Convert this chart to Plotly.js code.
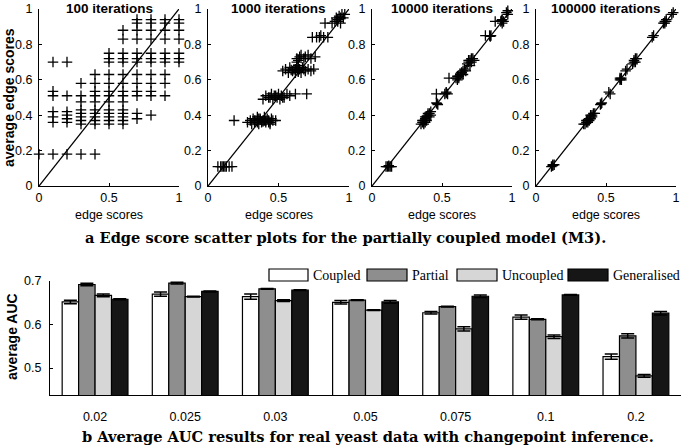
<!DOCTYPE html>
<html><head><meta charset="utf-8">
<script src="https://cdn.plot.ly/plotly-3.0.1.min.js"></script>
<style>html,body{margin:0;padding:0;background:#fff}#chart{width:685px;height:446px}</style>
</head><body><div id="chart"></div>
<script>
// ---------- Panel data (edge score scatter) ----------
const it100Cols = [0, 0.1, 0.2, 0.3, 0.4, 0.5, 0.6, 0.7, 0.8, 0.9, 1.0];
const it100Rows = [
  [0.18],
  [0.18, 0.36, 0.39, 0.42, 0.51, 0.535, 0.70],
  [0.18, 0.36, 0.38, 0.40, 0.42, 0.51, 0.70],
  [0.18, 0.35, 0.37, 0.39, 0.41, 0.43, 0.475, 0.51, 0.58],
  [0.18, 0.35, 0.37, 0.39, 0.41, 0.43, 0.475, 0.51, 0.535, 0.58, 0.63],
  [0.35, 0.37, 0.39, 0.41, 0.43, 0.475, 0.51, 0.535, 0.58, 0.63, 0.70, 0.72, 0.75],
  [0.35, 0.37, 0.39, 0.41, 0.43, 0.475, 0.51, 0.535, 0.58, 0.63, 0.70, 0.72, 0.75, 0.83, 0.88],
  [0.38, 0.41, 0.51, 0.535, 0.58, 0.63, 0.70, 0.72, 0.75, 0.83, 0.88, 0.92, 0.94],
  [0.40, 0.51, 0.535, 0.58, 0.63, 0.70, 0.72, 0.75, 0.83, 0.88, 0.92, 0.94],
  [0.51, 0.58, 0.63, 0.70, 0.72, 0.75, 0.83, 0.88, 0.92, 0.94],
  [0.70, 0.72, 0.75, 0.83, 0.88, 0.92, 0.94]
];

const it1000X = [0.07,0.09,0.10,0.11,0.12,0.13,0.15,0.17,
  0.185,
  0.28,0.30,0.31,0.32,0.33,0.34,0.35,0.36,0.37,0.38,0.39,0.40,0.41,0.42,0.43,0.44,0.45,0.46,0.48,
  0.33,0.35,0.37,0.39,0.41,0.43,0.36,0.40,0.44,
  0.39,0.41,0.43,0.45,0.46,0.47,0.49,0.50,0.51,0.52,0.54,0.56,0.58,0.62,0.70,0.44,0.48,0.53,
  0.53,0.55,0.57,0.58,0.60,0.61,0.62,0.63,0.63,0.64,0.65,0.66,0.67,0.69,0.71,0.73,0.75,0.59,0.62,0.64,0.68,
  0.63,0.65,0.66,0.68,0.69,0.71,0.73,0.76,0.64,0.64,
  0.74,0.77,0.79,0.80,0.82,0.85,
  0.83,0.88,0.90,0.91,0.92,0.93,0.94,0.95,0.96,0.97,0.92,0.94];
const it1000Y = [0.11,0.11,0.11,0.11,0.11,0.11,0.11,0.11,
  0.37,
  0.36,0.37,0.35,0.38,0.36,0.37,0.39,0.35,0.38,0.36,0.37,0.39,0.36,0.38,0.37,0.35,0.38,0.37,0.37,
  0.37,0.36,0.375,0.365,0.37,0.36,0.38,0.37,0.36,
  0.49,0.51,0.50,0.52,0.49,0.51,0.50,0.52,0.49,0.51,0.50,0.52,0.51,0.52,0.52,0.50,0.51,0.50,
  0.65,0.66,0.64,0.67,0.65,0.66,0.64,0.67,0.70,0.65,0.66,0.64,0.67,0.65,0.66,0.65,0.66,0.655,0.66,0.645,0.66,
  0.72,0.73,0.74,0.72,0.73,0.74,0.72,0.73,0.68,0.71,
  0.84,0.84,0.84,0.85,0.84,0.84,
  0.92,0.92,0.93,0.95,0.94,0.96,0.92,0.97,0.95,0.97,0.93,0.95];

const it10000X = [0.10,0.11,0.12,0.13,0.14,0.12,
  0.35,0.36,0.37,0.37,0.38,0.39,0.39,0.40,0.41,0.41,0.42,0.42,0.36,0.38,0.37,0.40,0.38,
  0.46,0.47,0.465,
  0.46,0.52,0.53,0.54,0.53,
  0.55,0.60,0.61,0.62,0.63,0.64,0.65,0.65,0.66,0.67,0.61,0.62,0.64,
  0.68,0.69,0.70,0.71,0.72,0.73,0.70,0.71,0.69,
  0.81,0.84,0.85,0.845,
  0.88,0.92,0.93,0.94,0.93,0.925,
  0.96,0.97,0.97];
const it10000Y = [0.11,0.11,0.11,0.11,0.11,0.115,
  0.35,0.36,0.35,0.37,0.38,0.37,0.39,0.40,0.39,0.41,0.40,0.42,0.37,0.36,0.36,0.41,0.39,
  0.47,0.46,0.465,
  0.52,0.52,0.53,0.52,0.525,
  0.61,0.61,0.60,0.62,0.63,0.64,0.65,0.63,0.66,0.65,0.62,0.61,0.64,
  0.69,0.70,0.71,0.70,0.72,0.71,0.68,0.72,0.71,
  0.85,0.85,0.85,0.845,
  0.93,0.93,0.94,0.93,0.92,0.935,
  0.98,0.99,0.97];

const it100000X = [0.11,0.12,0.13,0.12,
  0.34,0.35,0.36,0.37,0.37,0.38,0.39,0.39,0.40,0.41,0.42,0.40,0.36,0.38,
  0.46,0.47,0.465,
  0.52,0.53,
  0.60,0.61,0.60,0.61,0.605,
  0.64,0.65,
  0.69,0.70,0.71,0.72,0.70,0.71,
  0.83,0.84,
  0.91,0.92,0.93,0.93,0.92,
  0.97,0.98];
const it100000Y = [0.11,0.12,0.12,0.115,
  0.35,0.35,0.36,0.37,0.36,0.38,0.38,0.40,0.40,0.41,0.41,0.39,0.37,0.37,
  0.46,0.47,0.465,
  0.53,0.52,
  0.61,0.61,0.60,0.60,0.605,
  0.65,0.66,
  0.69,0.70,0.72,0.72,0.71,0.70,
  0.84,0.85,
  0.92,0.93,0.93,0.94,0.92,
  0.97,0.98];

const diagLine = [0, 1];
const panelTitles = ['100 iterations', '1000 iterations', '10000 iterations', '100000 iterations'];
const edgeTicks = [0, 0.5, 1];
const edgeTickText = ['0', '0.5', '1'];
const avgTicks = [0, 0.2, 0.4, 0.6, 0.8, 1];
const avgTickText = ['0', '0.2', '0.4', '0.6', '0.8', '1'];

// ---------- Bar data (average AUC) ----------
const penalties = ['0.02', '0.025', '0.03', '0.05', '0.075', '0.1', '0.2'];
const seriesNames = ['Coupled', 'Partial', 'Uncoupled', 'Generalised'];
const coupled      = [0.652, 0.670, 0.664, 0.651, 0.627, 0.617, 0.526];
const coupledErr   = [0.004, 0.005, 0.006, 0.004, 0.003, 0.005, 0.006];
const partial      = [0.692, 0.695, 0.682, 0.656, 0.641, 0.612, 0.574];
const partialErr   = [0.003, 0.002, 0.001, 0.001, 0.001, 0.001, 0.005];
const uncoupled    = [0.667, 0.664, 0.655, 0.633, 0.590, 0.572, 0.482];
const uncoupledErr = [0.003, 0.001, 0.002, 0.001, 0.005, 0.004, 0.003];
const generalised  = [0.658, 0.676, 0.679, 0.652, 0.665, 0.668, 0.626];
const generalisedErr = [0.001, 0.001, 0.001, 0.003, 0.003, 0.001, 0.004];
const aucTicks = [0.5, 0.6, 0.7];

const captionA = 'a Edge score scatter plots for the partially coupled model (M3).';
const captionB = 'b Average AUC results for real yeast data with changepoint inference.';

// ---------- build ----------
const SANS = 'Liberation Sans, Arial, Helvetica, sans-serif';
const SERIF = 'DejaVu Serif, serif';
const W = 685, H = 446;
const px = v => v / W;
const py = v => 1 - v / H;

const it100X = [], it100Y = [];
it100Cols.forEach((c, i) => it100Rows[i].forEach(v => { it100X.push(c); it100Y.push(v); }));

const scatterSets = [[it100X, it100Y], [it1000X, it1000Y], [it10000X, it10000Y], [it100000X, it100000Y]];
const traces = [];
scatterSets.forEach((s, i) => {
  const sfx = i === 0 ? '' : String(i + 1);
  traces.push({
    type: 'scatter', mode: 'lines', x: diagLine, y: diagLine,
    xaxis: 'x' + sfx, yaxis: 'y' + sfx, line: {color: '#000', width: 1.3},
    hoverinfo: 'skip', showlegend: false
  });
  traces.push({
    type: 'scatter', mode: 'markers', x: s[0], y: s[1],
    xaxis: 'x' + sfx, yaxis: 'y' + sfx, cliponaxis: false,
    marker: {symbol: 'cross-thin-open', size: 7.5, color: '#000', line: {color: '#000', width: 1.3}},
    showlegend: false
  });
});

const barVals = [coupled, partial, uncoupled, generalised];
const barErrs = [coupledErr, partialErr, uncoupledErr, generalisedErr];
const barColors = ['#ffffff', '#8e8e8e', '#d6d6d6', '#161616'];
barVals.forEach((v, i) => {
  traces.push({
    type: 'bar', name: seriesNames[i], x: penalties, y: v,
    xaxis: 'x5', yaxis: 'y5',
    marker: {color: barColors[i], line: {color: '#000', width: 1.2}},
    error_y: {type: 'data', array: barErrs[i], visible: true, color: '#000', thickness: 1.5, width: 6.5},
    showlegend: false
  });
});

const pDomX = [[39, 179], [208, 349], [372, 512], [536, 676]];
const pDomY = [py(186), py(9)];

const layout = {
  width: W, height: H, margin: {l: 0, r: 0, t: 0, b: 0},
  paper_bgcolor: '#fff', plot_bgcolor: 'rgba(0,0,0,0)',
  showlegend: false, bargap: 0.27, bargroupgap: 0, barmode: 'group',
  font: {family: SANS, color: '#000', size: 12},
  shapes: [], annotations: []
};

pDomX.forEach((d, i) => {
  const sfx = i === 0 ? '' : String(i + 1);
  layout['xaxis' + sfx] = {
    domain: [px(d[0]), px(d[1])], anchor: 'y' + sfx, range: [0, 1],
    tickvals: edgeTicks, ticktext: edgeTickText, ticks: 'inside', ticklen: 3, tickcolor: '#000',
    showline: true, linecolor: '#000', linewidth: 1, showgrid: false, zeroline: false,
    tickfont: {family: SANS, size: 12.5}, ticklabelstandoff: 0
  };
  layout['yaxis' + sfx] = {
    domain: pDomY, anchor: 'x' + sfx, range: [0, 1],
    tickvals: avgTicks, ticktext: avgTickText, ticks: 'inside', ticklen: 3, tickcolor: '#000',
    showline: true, linecolor: '#000', linewidth: 1, showgrid: false, zeroline: false,
    tickfont: {family: SANS, size: 12.5}, ticklabelstandoff: 3
  };
  layout.annotations.push({
    text: panelTitles[i], xref: 'x' + sfx + ' domain', yref: 'y' + sfx + ' domain',
    x: 0.5, y: 1, xanchor: 'center', yanchor: 'middle', showarrow: false,
    font: {family: SANS, size: 13.5, weight: 'bold'}
  });
  layout.annotations.push({
    text: 'edge scores', xref: 'x' + sfx + ' domain', yref: 'paper',
    x: 0.5, y: py(215), xanchor: 'center', yanchor: 'middle', showarrow: false,
    font: {family: SANS, size: 12.5}
  });
});

layout.xaxis5 = {
  domain: [px(50), px(681)], anchor: 'y5', type: 'category',
  showline: true, linecolor: '#000', linewidth: 1, ticks: '', showgrid: false, zeroline: false,
  tickfont: {family: SANS, size: 12.5}, ticklabelstandoff: 10
};
layout.yaxis5 = {
  domain: [py(395), py(281)], anchor: 'x5', range: [0.438, 0.7],
  tickvals: aucTicks, ticks: 'inside', ticklen: 3, tickcolor: '#000',
  showline: true, linecolor: '#000', linewidth: 1, showgrid: false, zeroline: false,
  tickfont: {family: SANS, size: 12.5}, ticklabelstandoff: 5
};

// axis titles on the left
layout.annotations.push({
  text: 'average edge scores', xref: 'paper', yref: 'paper', x: px(9), y: py(98),
  textangle: -90, showarrow: false, xanchor: 'center', yanchor: 'middle',
  font: {family: SANS, size: 14, weight: 'bold'}
});
layout.annotations.push({
  text: 'average AUC', xref: 'paper', yref: 'paper', x: px(12), y: py(337),
  textangle: -90, showarrow: false, xanchor: 'center', yanchor: 'middle',
  font: {family: SANS, size: 14, weight: 'bold'}
});

// legend
const legBoxes = [[269, 308], [367, 407], [457, 497], [568, 608]];
legBoxes.forEach((b, i) => {
  layout.shapes.push({
    type: 'rect', xref: 'paper', yref: 'paper', x0: px(b[0]), x1: px(b[1]), y0: py(281), y1: py(269),
    fillcolor: barColors[i], line: {color: '#000', width: 1.2}
  });
  layout.annotations.push({
    text: seriesNames[i], xref: 'paper', yref: 'paper', x: px(b[1] + 3), y: py(275),
    xanchor: 'left', yanchor: 'middle', showarrow: false,
    font: {family: 'Liberation Serif, Times New Roman, serif', size: 14}
  });
});

// captions
layout.annotations.push({
  text: captionA, xref: 'paper', yref: 'paper', x: px(345), y: py(237),
  xanchor: 'center', yanchor: 'middle', showarrow: false,
  font: {family: SERIF, size: 14.6, weight: 'bold'}
});
layout.annotations.push({
  text: captionB, xref: 'paper', yref: 'paper', x: px(368), y: py(436),
  xanchor: 'center', yanchor: 'middle', showarrow: false,
  font: {family: SERIF, size: 14.6, weight: 'bold'}
});

Plotly.newPlot('chart', traces, layout, {displayModeBar: false, staticPlot: true});
</script>
</body></html>
